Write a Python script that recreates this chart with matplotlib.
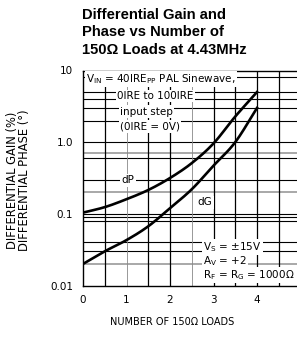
import matplotlib

matplotlib.use("Agg")
import matplotlib.pyplot as plt
import numpy as np

# data
loads = [0, 0.5, 1, 1.5, 2, 2.5, 3, 3.5, 4]
dp = [0.104, 0.124, 0.16, 0.215, 0.316, 0.51, 0.96, 2.28, 5.0]
dg = [0.020, 0.030, 0.043, 0.067, 0.12, 0.22, 0.47, 1.0, 3.0]
xticks = [0, 1, 2, 3, 4]
yticks = [0.01, 0.1, 1, 10]
yticklabels = ["0.01", "0.1", "1.0", "10"]

# irregular grid of the original datasheet
hgrid_black = [8, 5, 4, 3, 2, 1, 0.6, 0.3, 0.1, 0.09, 0.08, 0.04, 0.03]
hgrid_gray = [0.7, 0.2, 0.02]
vgrid_black = [0.5, 1.5, 2, 3, 3.5, 4, 4.5]
vgrid_gray = [1, 2.5]


def smooth(x, y, n=20):
    # catmull-rom through the read points, in log space
    x = np.asarray(x, float)
    y = np.log10(np.asarray(y, float))
    px_ = np.concatenate([[2 * x[0] - x[1]], x, [2 * x[-1] - x[-2]]])
    py_ = np.concatenate([[2 * y[0] - y[1]], y, [2 * y[-1] - y[-2]]])
    ox, oy = [], []
    t = np.linspace(0, 1, n, endpoint=False)
    for i in range(1, len(px_) - 2):
        for arr, out in ((px_, ox), (py_, oy)):
            p0, p1, p2, p3 = arr[i - 1], arr[i], arr[i + 1], arr[i + 2]
            out.extend(0.5 * (2 * p1 + (-p0 + p2) * t + (2 * p0 - 5 * p1 + 4 * p2 - p3) * t ** 2
                              + (-p0 + 3 * p1 - 3 * p2 + p3) * t ** 3))
    ox.append(x[-1])
    oy.append(y[-1])
    return np.array(ox), 10 ** np.array(oy)


fig = plt.figure(figsize=(2.97, 3.38), dpi=100)
ax = fig.add_axes([83 / 297, 52.5 / 338, 217.5 / 297, 215 / 338])
ax.set_yscale("log")
ax.set_xlim(0, 5)
ax.set_ylim(0.01, 10)

for v in hgrid_black:
    ax.axhline(v, color="black", lw=0.8, zorder=1)
for v in hgrid_gray:
    ax.axhline(v, color="#999999", lw=1.2, zorder=1)
for v in vgrid_black:
    ax.axvline(v, color="black", lw=0.9, zorder=1)
for v in vgrid_gray:
    ax.axvline(v, color="#888888", lw=0.6, zorder=1)

ax.plot(*smooth(loads, dp), color="black", lw=1.9, zorder=4)
ax.plot(*smooth(loads, dg), color="black", lw=1.9, zorder=4)


def px(x, y):
    return (x - 83) / 43.5, 10 ** (1 - (y - 70.5) / 72)


box = dict(facecolor="white", edgecolor="none", pad=1.0)
tfs = 7.5
ax.text(*px(86, 79), r"V$_{\mathregular{IN}}$ = 40IRE$_{\mathregular{PP}}$ PAL Sinewave,",
        fontsize=tfs, va="center", ha="left", bbox=box, zorder=3)
ax.text(*px(117, 96), "0IRE to 100IRE", fontsize=tfs, va="center", ha="left", bbox=box, zorder=3)
ax.text(*px(120, 112), "input step", fontsize=tfs, va="center", ha="left", bbox=box, zorder=3)
ax.text(*px(120, 127), "(0IRE = 0V)", fontsize=tfs, va="center", ha="left", bbox=box, zorder=3)
ax.text(*px(128, 181), "dP", fontsize=tfs, va="center", ha="center", bbox=box, zorder=3)
ax.text(*px(205, 203), "dG", fontsize=tfs, va="center", ha="center", bbox=box, zorder=3)
ax.text(*px(203, 248), r"V$_{\mathregular{S}}$ = ±15V", fontsize=tfs, va="center", ha="left", bbox=box, zorder=3)
ax.text(*px(203, 262), r"A$_{\mathregular{V}}$ = +2", fontsize=tfs, va="center", ha="left", bbox=box, zorder=3)
ax.text(*px(203, 276), r"R$_{\mathregular{F}}$ = R$_{\mathregular{G}}$ = 1000Ω",
        fontsize=tfs, va="center", ha="left", bbox=box, zorder=3)

ax.set_xticks(xticks)
ax.set_xticklabels([str(t) for t in xticks], fontsize=7.5)
ax.set_yticks(yticks)
ax.set_yticklabels(yticklabels, fontsize=7.5)
ax.minorticks_off()
ax.tick_params(length=0, pad=7)
ax.spines["right"].set_visible(False)
for s in ["left", "bottom", "top"]:
    ax.spines[s].set_linewidth(1.0)

fig.text(172 / 297, 1 - 322 / 338, "NUMBER OF 150Ω LOADS", fontsize=7,
         ha="center", va="center")
fig.text(13 / 297, 1 - 180 / 338, "DIFFERENTIAL GAIN (%)", rotation=90,
         fontsize=8.3, ha="center", va="center")
fig.text(25 / 297, 1 - 180 / 338, "DIFFERENTIAL PHASE (°)", rotation=90,
         fontsize=8.3, ha="center", va="center")

title = "Differential Gain and\nPhase vs Number of\n150Ω Loads at 4.43MHz"
fig.text(82 / 297, 1 - 8 / 338, title, fontsize=10.6, fontweight="bold",
         family="Liberation Sans", ha="left", va="top", linespacing=1.3)

fig.savefig("out.png", dpi=100)
